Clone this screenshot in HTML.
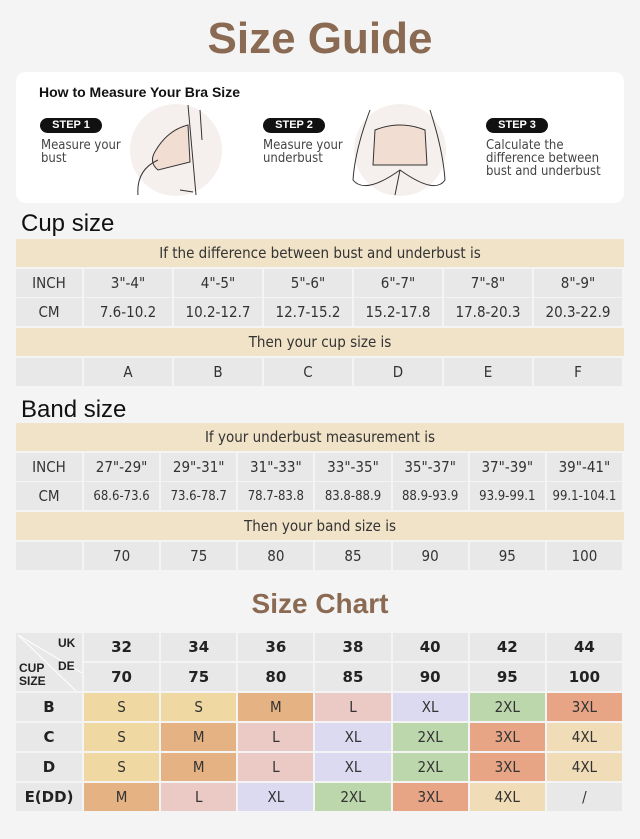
<!DOCTYPE html>
<html><head><meta charset="utf-8"><style>
*{margin:0;padding:0;box-sizing:border-box}
body{width:640px;height:839px;background:#f4f4f4;font-family:"Liberation Sans","DejaVu Sans",sans-serif;position:relative;overflow:hidden;color:#222}
.abs{position:absolute}
.cell{position:absolute;display:flex;align-items:center;justify-content:center;font-size:15px;color:#333;font-family:"DejaVu Sans Condensed","DejaVu Sans",sans-serif;font-weight:300}
.title{position:absolute;width:640px;text-align:center;color:#8a6a52;font-weight:bold}
.h2{position:absolute;left:21px;font-size:24px;color:#111}
.step{position:absolute;background:#111;color:#fff;font-size:11px;font-weight:bold;border-radius:9px;width:62px;height:15px;text-align:center;line-height:15px}
.stext{position:absolute;font-size:13px;color:#444;line-height:13px;font-family:"DejaVu Sans Condensed","DejaVu Sans",sans-serif}
</style></head><body>
<div class="title" style="top:14px;font-size:44px">Size Guide</div>
<div class="abs" style="left:16px;top:72px;width:608px;height:131px;background:#fff;border-radius:10px"></div>
<div class="abs" style="left:39px;top:84px;font-size:14px;font-weight:bold;color:#111">How to Measure Your Bra Size</div>
<div class="step" style="left:40px;top:118px">STEP 1</div>
<div class="stext" style="left:41px;top:139px">Measure your<br>bust</div>
<div class="step" style="left:263px;top:118px">STEP 2</div>
<div class="stext" style="left:263px;top:139px">Measure your<br>underbust</div>
<div class="step" style="left:486px;top:118px">STEP 3</div>
<div class="stext" style="left:486px;top:139px">Calculate the<br>difference between<br>bust and underbust</div>
<svg class="abs" style="left:128px;top:100px" width="100" height="100">
<circle cx="48" cy="50" r="46" fill="#f5f0ee"/>
<path d="M60 25 Q40 30 28 50 Q20 62 30 70 L62 62 Z" fill="#f1ddd2" stroke="#333" stroke-width="1"/>
<path d="M10 95 Q8 70 30 60 M60 5 L68 95 M52 90 L65 92 M72 10 L74 40" fill="none" stroke="#333" stroke-width="1"/>
</svg>
<svg class="abs" style="left:345px;top:100px" width="110" height="100">
<circle cx="55" cy="50" r="46" fill="#f5f0ee"/>
<path d="M30 30 Q55 20 80 30 L82 65 L28 65 Z" fill="#f1ddd2" stroke="#333" stroke-width="1"/>
<path d="M25 10 Q10 50 8 80 Q20 95 55 70 Q90 95 100 80 Q98 50 85 10 M55 70 L50 95" fill="none" stroke="#333" stroke-width="1"/>
</svg>

<div class="h2" style="top:210px">Cup size</div>
<div class="h2" style="top:396px">Band size</div>
<div class="title" style="top:588px;font-size:28px">Size Chart</div>
<div id="tables"></div>
<script>
const cupInch=['3"-4"','4"-5"','5"-6"','6"-7"','7"-8"','8"-9"'];
const cupCm=['7.6-10.2','10.2-12.7','12.7-15.2','15.2-17.8','17.8-20.3','20.3-22.9'];
const cupLetters=['A','B','C','D','E','F'];
const bandInch=['27"-29"','29"-31"','31"-33"','33"-35"','35"-37"','37"-39"','39"-41"'];
const bandCm=['68.6-73.6','73.6-78.7','78.7-83.8','83.8-88.9','88.9-93.9','93.9-99.1','99.1-104.1'];
const bandSizes=['70','75','80','85','90','95','100'];
const ukSizes=['32','34','36','38','40','42','44'];
const deSizes=['70','75','80','85','90','95','100'];
const cupRows=['B','C','D','E(DD)'];
const sizeGrid=[['S','S','M','L','XL','2XL','3XL'],['S','M','L','XL','2XL','3XL','4XL'],['S','M','L','XL','2XL','3XL','4XL'],['M','L','XL','2XL','3XL','4XL','/']];
const colors={'S':'#f0d8a2','M':'#e4b283','L':'#ebc9c5','XL':'#dbdaf0','2XL':'#bdd7ad','3XL':'#e7a585','4XL':'#f0dcb6','/':'#e8e8e8'};
const root=document.getElementById('tables');
function cell(x,y,w,h,txt,bg,name,style){
  const d=document.createElement('div');
  d.className='cell';
  d.style.cssText=`left:${x}px;top:${y}px;width:${w}px;height:${h}px;background:${bg};`+(style||'');
  d.textContent=txt;
  
  
  root.appendChild(d);
}
const G='#e8e8e8',B='#f1e3c8';
function table(y0,rowsData,heads,prefix){
  const n=rowsData[0].length, colW=(624-84)/n;
  const hs=[y0,y0+30,y0+59,y0+89,y0+119]; const hh=[28,28,28,28,28];
  cell(16,hs[0],608,hh[0],heads[0],B,prefix+'-header-1');
  cell(16,hs[1],66,hh[1],'INCH',G,prefix+'-inch-label');
  cell(16,hs[2],66,hh[2],'CM',G,prefix+'-cm-label');
  cell(16,hs[3],608,hh[3],heads[1],B,prefix+'-header-2');
  cell(16,hs[4],66,hh[4],'',G,prefix+'-blank');
  [rowsData[0],rowsData[1],rowsData[2]].forEach((arr,ri)=>{
    const r=[1,2,4][ri];
    arr.forEach((v,i)=>cell(84+i*colW,hs[r],colW-2,hh[r],v,G,prefix+'-cell-'+r+'-'+i,n===7&&ri===1?'font-size:13px;':''));
  });
}
table(239,[cupInch,cupCm,cupLetters],['If the difference between bust and underbust is','Then your cup size is'],'cup');
table(423,[bandInch,bandCm,bandSizes],['If your underbust measurement is','Then your band size is'],'band');
// size chart
const cw=(624-84)/7, ys=[633,663,693,723,753,783];
const bold='font-weight:bold;font-family:"DejaVu Sans","Liberation Sans",sans-serif;color:#222;';
cell(16,633,66,58,'',G,'chart-corner');
ukSizes.forEach((v,i)=>cell(84+i*cw,ys[0],cw-2,28,v,G,'uk-'+v,bold));
deSizes.forEach((v,i)=>cell(84+i*cw,ys[1],cw-2,28,v,G,'de-'+v,bold));
cupRows.forEach((c,r)=>{
  cell(16,ys[r+2],66,28,c,G,'cup-row-'+c,bold);
  sizeGrid[r].forEach((s,i)=>cell(84+i*cw,ys[r+2],cw-2,28,s,colors[s],'size-'+c+'-'+i));
});
</script>
<svg class="abs" style="left:16px;top:633px" width="66" height="58"><path d="M2 2 L66 40 M2 2 L60 58" stroke="#fff" stroke-width="1"/></svg>
<div class="abs" style="left:58px;top:636px;font-size:12px;font-weight:bold">UK</div>
<div class="abs" style="left:58px;top:659px;font-size:12px;font-weight:bold">DE</div>
<div class="abs" style="left:19px;top:662px;font-size:12px;font-weight:bold;line-height:13px">CUP<br>SIZE</div>
</body></html>
